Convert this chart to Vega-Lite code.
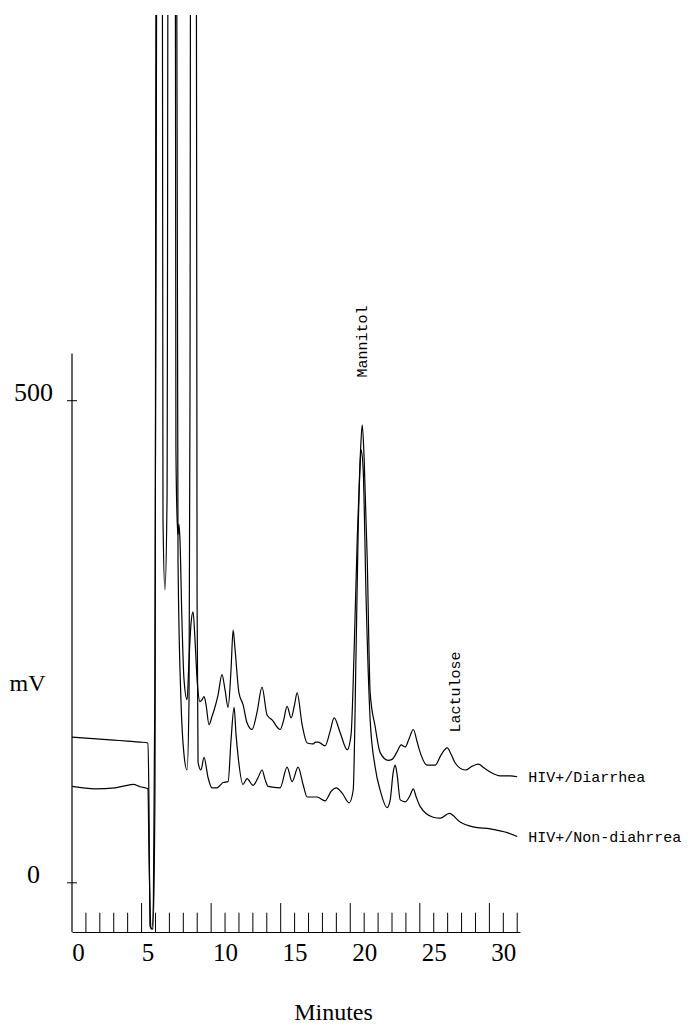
{
  "$schema": "https://vega.github.io/schema/vega-lite/v6.json",
  "width": 448,
  "height": 917,
  "autosize": {"type": "none"},
  "padding": {"left": 72, "top": 15, "right": 171, "bottom": 99},
  "background": "white",
  "config": {"view": {"stroke": null}},
  "datasets": {
    "traces": [
      {"s":"HIV+/Diarrhea","t":-1.0,"mv":151},{"s":"HIV+/Diarrhea","t":0.0,"mv":150},{"s":"HIV+/Diarrhea","t":1.0,"mv":149},{"s":"HIV+/Diarrhea","t":2.0,"mv":148},{"s":"HIV+/Diarrhea","t":3.0,"mv":147},{"s":"HIV+/Diarrhea","t":3.9,"mv":146},{"s":"HIV+/Diarrhea","t":4.46,"mv":145},{"s":"HIV+/Diarrhea","t":4.53,"mv":86},{"s":"HIV+/Diarrhea","t":4.6,"mv":-44},{"s":"HIV+/Diarrhea","t":4.75,"mv":-48},{"s":"HIV+/Diarrhea","t":4.85,"mv":-20},{"s":"HIV+/Diarrhea","t":4.95,"mv":190},{"s":"HIV+/Diarrhea","t":5.05,"mv":708},{"s":"HIV+/Diarrhea","t":5.15,"mv":1300},{"s":"HIV+/Diarrhea","t":6.4,"mv":1300},{"s":"HIV+/Diarrhea","t":6.47,"mv":449},{"s":"HIV+/Diarrhea","t":6.55,"mv":380},{"s":"HIV+/Diarrhea","t":6.62,"mv":361},{"s":"HIV+/Diarrhea","t":6.68,"mv":372},{"s":"HIV+/Diarrhea","t":6.76,"mv":356},{"s":"HIV+/Diarrhea","t":6.9,"mv":273},{"s":"HIV+/Diarrhea","t":7.05,"mv":211},{"s":"HIV+/Diarrhea","t":7.27,"mv":190},{"s":"HIV+/Diarrhea","t":7.41,"mv":231},{"s":"HIV+/Diarrhea","t":7.55,"mv":268},{"s":"HIV+/Diarrhea","t":7.7,"mv":281},{"s":"HIV+/Diarrhea","t":7.84,"mv":252},{"s":"HIV+/Diarrhea","t":7.99,"mv":211},{"s":"HIV+/Diarrhea","t":8.2,"mv":188},{"s":"HIV+/Diarrhea","t":8.35,"mv":190},{"s":"HIV+/Diarrhea","t":8.49,"mv":193},{"s":"HIV+/Diarrhea","t":8.63,"mv":185},{"s":"HIV+/Diarrhea","t":8.85,"mv":164},{"s":"HIV+/Diarrhea","t":9.05,"mv":172},{"s":"HIV+/Diarrhea","t":9.21,"mv":179},{"s":"HIV+/Diarrhea","t":9.5,"mv":195},{"s":"HIV+/Diarrhea","t":9.78,"mv":216},{"s":"HIV+/Diarrhea","t":10.0,"mv":200},{"s":"HIV+/Diarrhea","t":10.22,"mv":182},{"s":"HIV+/Diarrhea","t":10.43,"mv":221},{"s":"HIV+/Diarrhea","t":10.58,"mv":262},{"s":"HIV+/Diarrhea","t":10.72,"mv":242},{"s":"HIV+/Diarrhea","t":11.0,"mv":197},{"s":"HIV+/Diarrhea","t":11.29,"mv":185},{"s":"HIV+/Diarrhea","t":11.58,"mv":166},{"s":"HIV+/Diarrhea","t":11.94,"mv":159},{"s":"HIV+/Diarrhea","t":12.3,"mv":177},{"s":"HIV+/Diarrhea","t":12.66,"mv":203},{"s":"HIV+/Diarrhea","t":13.02,"mv":174},{"s":"HIV+/Diarrhea","t":13.38,"mv":169},{"s":"HIV+/Diarrhea","t":13.96,"mv":159},{"s":"HIV+/Diarrhea","t":14.2,"mv":168},{"s":"HIV+/Diarrhea","t":14.46,"mv":183},{"s":"HIV+/Diarrhea","t":14.75,"mv":171},{"s":"HIV+/Diarrhea","t":15.0,"mv":185},{"s":"HIV+/Diarrhea","t":15.18,"mv":197},{"s":"HIV+/Diarrhea","t":15.54,"mv":164},{"s":"HIV+/Diarrhea","t":15.9,"mv":145},{"s":"HIV+/Diarrhea","t":16.33,"mv":144},{"s":"HIV+/Diarrhea","t":16.5,"mv":146},{"s":"HIV+/Diarrhea","t":16.7,"mv":146},{"s":"HIV+/Diarrhea","t":17.19,"mv":142},{"s":"HIV+/Diarrhea","t":17.55,"mv":157},{"s":"HIV+/Diarrhea","t":17.84,"mv":171},{"s":"HIV+/Diarrhea","t":18.27,"mv":156},{"s":"HIV+/Diarrhea","t":18.78,"mv":138},{"s":"HIV+/Diarrhea","t":19.06,"mv":154},{"s":"HIV+/Diarrhea","t":19.28,"mv":242},{"s":"HIV+/Diarrhea","t":19.5,"mv":356},{"s":"HIV+/Diarrhea","t":19.71,"mv":439},{"s":"HIV+/Diarrhea","t":19.86,"mv":475},{"s":"HIV+/Diarrhea","t":20.0,"mv":439},{"s":"HIV+/Diarrhea","t":20.22,"mv":335},{"s":"HIV+/Diarrhea","t":20.43,"mv":197},{"s":"HIV+/Diarrhea","t":20.79,"mv":162},{"s":"HIV+/Diarrhea","t":21.15,"mv":135},{"s":"HIV+/Diarrhea","t":21.73,"mv":127},{"s":"HIV+/Diarrhea","t":22.0,"mv":128},{"s":"HIV+/Diarrhea","t":22.37,"mv":136},{"s":"HIV+/Diarrhea","t":22.66,"mv":143},{"s":"HIV+/Diarrhea","t":22.95,"mv":141},{"s":"HIV+/Diarrhea","t":23.24,"mv":150},{"s":"HIV+/Diarrhea","t":23.53,"mv":159},{"s":"HIV+/Diarrhea","t":23.81,"mv":146},{"s":"HIV+/Diarrhea","t":24.03,"mv":135},{"s":"HIV+/Diarrhea","t":24.53,"mv":122},{"s":"HIV+/Diarrhea","t":25.1,"mv":122},{"s":"HIV+/Diarrhea","t":25.54,"mv":133},{"s":"HIV+/Diarrhea","t":25.97,"mv":140},{"s":"HIV+/Diarrhea","t":26.26,"mv":133},{"s":"HIV+/Diarrhea","t":26.55,"mv":124},{"s":"HIV+/Diarrhea","t":27.27,"mv":117},{"s":"HIV+/Diarrhea","t":27.77,"mv":121},{"s":"HIV+/Diarrhea","t":28.2,"mv":123},{"s":"HIV+/Diarrhea","t":28.63,"mv":119},{"s":"HIV+/Diarrhea","t":29.06,"mv":115},{"s":"HIV+/Diarrhea","t":29.78,"mv":111},{"s":"HIV+/Diarrhea","t":30.5,"mv":111},{"s":"HIV+/Diarrhea","t":31.0,"mv":110},
      {"s":"HIV+/Non-diahrrea","t":-1.0,"mv":100},{"s":"HIV+/Non-diahrrea","t":0.65,"mv":97.5},{"s":"HIV+/Non-diahrrea","t":2.1,"mv":98.5},{"s":"HIV+/Non-diahrrea","t":2.8,"mv":100.6},{"s":"HIV+/Non-diahrrea","t":3.4,"mv":102},{"s":"HIV+/Non-diahrrea","t":3.9,"mv":99.6},{"s":"HIV+/Non-diahrrea","t":4.46,"mv":97.5},{"s":"HIV+/Non-diahrrea","t":4.53,"mv":34},{"s":"HIV+/Non-diahrrea","t":4.68,"mv":-47},{"s":"HIV+/Non-diahrrea","t":4.82,"mv":-48},{"s":"HIV+/Non-diahrrea","t":4.96,"mv":86},{"s":"HIV+/Non-diahrrea","t":5.07,"mv":1300},{"s":"HIV+/Non-diahrrea","t":5.47,"mv":1300},{"s":"HIV+/Non-diahrrea","t":5.54,"mv":377},{"s":"HIV+/Non-diahrrea","t":5.68,"mv":304},{"s":"HIV+/Non-diahrrea","t":5.83,"mv":397},{"s":"HIV+/Non-diahrrea","t":5.94,"mv":1300},{"s":"HIV+/Non-diahrrea","t":6.47,"mv":1300},{"s":"HIV+/Non-diahrrea","t":6.62,"mv":335},{"s":"HIV+/Non-diahrrea","t":6.83,"mv":190},{"s":"HIV+/Non-diahrrea","t":7.05,"mv":133},{"s":"HIV+/Non-diahrrea","t":7.27,"mv":117},{"s":"HIV+/Non-diahrrea","t":7.41,"mv":190},{"s":"HIV+/Non-diahrrea","t":7.48,"mv":501},{"s":"HIV+/Non-diahrrea","t":7.55,"mv":1300},{"s":"HIV+/Non-diahrrea","t":7.91,"mv":1300},{"s":"HIV+/Non-diahrrea","t":7.99,"mv":294},{"s":"HIV+/Non-diahrrea","t":8.06,"mv":125},{"s":"HIV+/Non-diahrrea","t":8.27,"mv":117},{"s":"HIV+/Non-diahrrea","t":8.49,"mv":130},{"s":"HIV+/Non-diahrrea","t":8.78,"mv":109},{"s":"HIV+/Non-diahrrea","t":9.06,"mv":98.5},{"s":"HIV+/Non-diahrrea","t":9.42,"mv":98.5},{"s":"HIV+/Non-diahrrea","t":9.86,"mv":104},{"s":"HIV+/Non-diahrrea","t":10.22,"mv":105},{"s":"HIV+/Non-diahrrea","t":10.43,"mv":148},{"s":"HIV+/Non-diahrrea","t":10.65,"mv":182},{"s":"HIV+/Non-diahrrea","t":10.79,"mv":154},{"s":"HIV+/Non-diahrrea","t":10.94,"mv":131},{"s":"HIV+/Non-diahrrea","t":11.29,"mv":102},{"s":"HIV+/Non-diahrrea","t":11.58,"mv":108},{"s":"HIV+/Non-diahrrea","t":12.01,"mv":101},{"s":"HIV+/Non-diahrrea","t":12.37,"mv":109},{"s":"HIV+/Non-diahrrea","t":12.66,"mv":117},{"s":"HIV+/Non-diahrrea","t":12.88,"mv":107},{"s":"HIV+/Non-diahrrea","t":13.09,"mv":100},{"s":"HIV+/Non-diahrrea","t":13.96,"mv":98.5},{"s":"HIV+/Non-diahrrea","t":14.46,"mv":120},{"s":"HIV+/Non-diahrrea","t":14.82,"mv":105},{"s":"HIV+/Non-diahrrea","t":15.25,"mv":120},{"s":"HIV+/Non-diahrrea","t":15.61,"mv":102},{"s":"HIV+/Non-diahrrea","t":15.9,"mv":89},{"s":"HIV+/Non-diahrrea","t":16.62,"mv":89},{"s":"HIV+/Non-diahrrea","t":17.19,"mv":85},{"s":"HIV+/Non-diahrrea","t":17.63,"mv":95},{"s":"HIV+/Non-diahrrea","t":17.99,"mv":98.5},{"s":"HIV+/Non-diahrrea","t":18.42,"mv":93},{"s":"HIV+/Non-diahrrea","t":18.92,"mv":83},{"s":"HIV+/Non-diahrrea","t":19.21,"mv":96},{"s":"HIV+/Non-diahrrea","t":19.42,"mv":242},{"s":"HIV+/Non-diahrrea","t":19.57,"mv":366},{"s":"HIV+/Non-diahrrea","t":19.71,"mv":434},{"s":"HIV+/Non-diahrrea","t":19.78,"mv":449},{"s":"HIV+/Non-diahrrea","t":19.93,"mv":428},{"s":"HIV+/Non-diahrrea","t":20.14,"mv":294},{"s":"HIV+/Non-diahrrea","t":20.43,"mv":169},{"s":"HIV+/Non-diahrrea","t":20.79,"mv":120},{"s":"HIV+/Non-diahrrea","t":21.15,"mv":96},{"s":"HIV+/Non-diahrrea","t":21.65,"mv":78},{"s":"HIV+/Non-diahrrea","t":21.87,"mv":86},{"s":"HIV+/Non-diahrrea","t":22.09,"mv":115},{"s":"HIV+/Non-diahrrea","t":22.23,"mv":122},{"s":"HIV+/Non-diahrrea","t":22.37,"mv":112},{"s":"HIV+/Non-diahrrea","t":22.59,"mv":86},{"s":"HIV+/Non-diahrrea","t":22.95,"mv":84},{"s":"HIV+/Non-diahrrea","t":23.31,"mv":91},{"s":"HIV+/Non-diahrrea","t":23.53,"mv":97.5},{"s":"HIV+/Non-diahrrea","t":23.74,"mv":89},{"s":"HIV+/Non-diahrrea","t":24.03,"mv":79},{"s":"HIV+/Non-diahrrea","t":24.96,"mv":68},{"s":"HIV+/Non-diahrrea","t":25.47,"mv":67},{"s":"HIV+/Non-diahrrea","t":26.12,"mv":72},{"s":"HIV+/Non-diahrrea","t":26.9,"mv":63},{"s":"HIV+/Non-diahrrea","t":27.84,"mv":58},{"s":"HIV+/Non-diahrrea","t":29.06,"mv":56},{"s":"HIV+/Non-diahrrea","t":30.29,"mv":52},{"s":"HIV+/Non-diahrrea","t":31.0,"mv":48}
    ],
    "minorTicks": [{"t":0},{"t":1},{"t":2},{"t":3},{"t":5},{"t":6},{"t":7},{"t":8},{"t":10},{"t":11},{"t":12},{"t":13},{"t":15},{"t":16},{"t":17},{"t":18},{"t":20},{"t":21},{"t":22},{"t":23},{"t":25},{"t":26},{"t":27},{"t":28},{"t":30},{"t":31}],
    "majorTicks": [{"t":4},{"t":9},{"t":14},{"t":19},{"t":24},{"t":29}],
    "yTicks": [{"mv":0},{"mv":500}]
  },
  "layer": [
    {
      "data": {"name": "traces"},
      "mark": {"type": "line", "clip": true, "color": "black", "strokeWidth": 1.2, "interpolate": "monotone"},
      "encoding": {
        "x": {"field": "t", "type": "quantitative",
          "scale": {"domain": [-1, 31.2], "nice": false, "zero": false},
          "axis": {"values": [0,5,10,15,20,25,30], "grid": false, "ticks": false,
            "domain": true, "domainColor": "black", "domainWidth": 1,
            "labelFont": "Liberation Serif", "labelFontSize": 25, "labelColor": "black",
            "labelBaseline": "alphabetic", "labelPadding": 28,
            "labelOffset": {"condition": {"test": "datum.value <= 5", "value": -8}, "value": 0},
            "title": "Minutes", "titleFont": "Liberation Serif", "titleFontSize": 24,
            "titleFontWeight": "normal", "titleColor": "black",
            "titleX": 261, "titleY": 80, "titleAlign": "center", "titleBaseline": "middle"}},
        "y": {"field": "mv", "type": "quantitative",
          "scale": {"domain": [-51, 900], "nice": false, "zero": false},
          "axis": {"values": [0, 500], "grid": false, "ticks": false, "domain": false,
            "labelFont": "Liberation Serif", "labelFontSize": 26, "labelColor": "black",
            "labelAlign": "center", "labelBaseline": "alphabetic", "labelPadding": 39,
            "title": "mV", "titleAngle": 0, "titleFont": "Liberation Serif", "titleFontSize": 24,
            "titleFontWeight": "normal", "titleColor": "black",
            "titleX": -45, "titleY": 668, "titleAlign": "center", "titleBaseline": "middle"}},
        "detail": {"field": "s"}
      }
    },
    {
      "data": {"name": "minorTicks"},
      "mark": {"type": "rule", "color": "black", "strokeWidth": 1},
      "encoding": {
        "x": {"field": "t", "type": "quantitative"},
        "y": {"datum": -51, "type": "quantitative"},
        "y2": {"datum": -31}
      }
    },
    {
      "data": {"name": "majorTicks"},
      "mark": {"type": "rule", "color": "black", "strokeWidth": 1},
      "encoding": {
        "x": {"field": "t", "type": "quantitative"},
        "y": {"datum": -51, "type": "quantitative"},
        "y2": {"datum": -21}
      }
    },
    {
      "data": {"values": [{}]},
      "mark": {"type": "rule", "color": "black", "strokeWidth": 1.2},
      "encoding": {
        "x": {"datum": -1, "type": "quantitative"},
        "y": {"datum": -51, "type": "quantitative"},
        "y2": {"datum": 549}
      }
    },
    {
      "data": {"name": "yTicks"},
      "mark": {"type": "rule", "color": "black", "strokeWidth": 1},
      "encoding": {
        "x": {"datum": -1.36, "type": "quantitative"},
        "x2": {"datum": -0.64},
        "y": {"field": "mv", "type": "quantitative"}
      }
    },
    {
      "data": {"values": [{"name": "Mannitol"}]},
      "mark": {"type": "text", "angle": 270, "align": "left", "baseline": "middle", "font": "Liberation Mono", "fontSize": 15, "color": "black"},
      "encoding": {
        "x": {"datum": 19.86, "type": "quantitative"},
        "y": {"datum": 524, "type": "quantitative"},
        "text": {"field": "name"}
      }
    },
    {
      "data": {"values": [{"name": "Lactulose"}]},
      "mark": {"type": "text", "angle": 270, "align": "left", "baseline": "middle", "font": "Liberation Mono", "fontSize": 15, "color": "black"},
      "encoding": {
        "x": {"datum": 26.5, "type": "quantitative"},
        "y": {"datum": 156, "type": "quantitative"},
        "text": {"field": "name"}
      }
    },
    {
      "data": {"name": "traces"},
      "transform": [{"filter": "datum.t == 31"}],
      "mark": {"type": "text", "align": "left", "baseline": "middle", "dx": 11, "font": "Liberation Mono", "fontSize": 15, "color": "black"},
      "encoding": {
        "x": {"field": "t", "type": "quantitative"},
        "y": {"field": "mv", "type": "quantitative"},
        "text": {"field": "s"}
      }
    }
  ]
}
